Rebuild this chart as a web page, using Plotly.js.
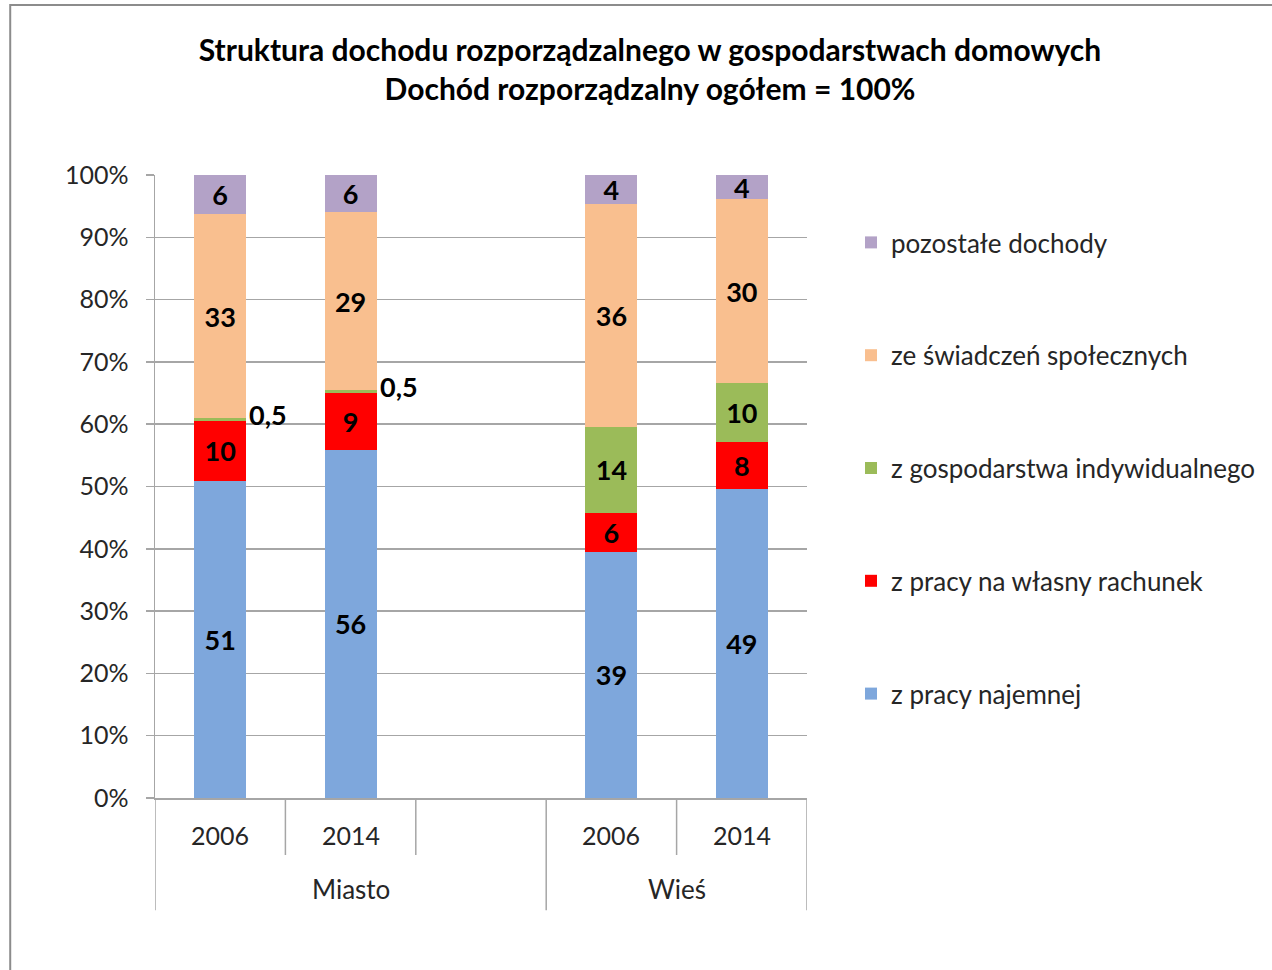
<!DOCTYPE html>
<html>
<head>
<meta charset="utf-8">
<script src="https://cdn.plot.ly/plotly-3.0.1.min.js"></script>
<style>
  html, body { margin: 0; padding: 0; background: #ffffff; }
  #chart { width: 1272px; height: 970px; }
</style>
</head>
<body>
<div id="chart"></div>
<script>
// ---- data ----
const xSlots = [0, 1, 3, 4];                 // slot positions (slot 2 is the empty gap)
const years = ['2006', '2014', '2006', '2014'];
const groups = ['Miasto', 'Wieś'];
const groupSpans = [[-0.5, 2.5], [2.5, 4.5]];

const seriesNames = ['z pracy najemnej', 'z pracy na własny rachunek', 'z gospodarstwa indywidualnego', 'ze świadczeń społecznych', 'pozostałe dochody'];
const seriesColors = ['#7ea7dc', '#ff0000', '#9bbb59', '#f9bf8f', '#b3a2c7'];

const najemnej     = [50.9, 55.9, 39.5, 49.6];
const wlasny       = [9.6, 9.1, 6.2, 7.5];
const gospodarstwo = [0.5, 0.5, 13.9, 9.5];
const swiadczenia  = [32.7, 28.5, 35.7, 29.5];
const pozostale    = [6.3, 6.0, 4.7, 3.9];

const labNajemnej     = ['51', '56', '39', '49'];
const labWlasny       = ['10', '9', '6', '8'];
const labGospodarstwo = ['0,5', '0,5', '14', '10'];
const labSwiadczenia  = ['33', '29', '36', '30'];
const labPozostale    = ['6', '6', '4', '4'];

const yTicks = [0, 10, 20, 30, 40, 50, 60, 70, 80, 90, 100];

// ---- build ----
const FONT = 'Lato, "Open Sans", sans-serif';
const values = [najemnej, wlasny, gospodarstwo, swiadczenia, pozostale];
const labels = [labNajemnej, labWlasny, labGospodarstwo, labSwiadczenia, labPozostale];
const SMALL = 2; // segments thinner than this get their label outside
const LABEL_FONT = { family: FONT, size: 27, color: '#000000', weight: 'bold' };

const traces = values.map((v, k) => ({
  type: 'bar',
  name: seriesNames[k],
  legendgroup: 'g' + k,
  legendrank: values.length - k,
  x: xSlots,
  y: v,
  width: 0.4,
  marker: { color: seriesColors[k], line: { width: 0 } },
  text: labels[k].map((t, i) => v[i] < SMALL ? '' : t),
  textposition: 'inside',
  insidetextanchor: 'middle',
  textangle: 0,
  constraintext: 'none',
  textfont: LABEL_FONT,
  hoverinfo: 'name+y'
}));

const annotations = [];
const shapes = [];
const gridGray = '#a6a6a6';
const textGray = '#262626';

// outside labels for tiny segments
values.forEach((v, k) => {
  v.forEach((val, i) => {
    if (val < SMALL) {
      let top = 0;
      for (let j = 0; j <= k; j++) top += values[j][i];
      annotations.push({
        x: xSlots[i] + 0.2, y: top, xref: 'x', yref: 'y',
        text: labels[k][i], showarrow: false,
        xanchor: 'left', yanchor: 'middle', xshift: 1, yshift: 3,
        font: LABEL_FONT
      });
    }
  });
});

// year labels
xSlots.forEach((x, i) => {
  annotations.push({
    x: x, y: -0.059, xref: 'x', yref: 'paper', text: years[i], showarrow: false,
    xanchor: 'center', yanchor: 'middle',
    font: { family: FONT, size: 25, color: textGray }
  });
});
// group labels
groups.forEach((g, i) => {
  annotations.push({
    x: (groupSpans[i][0] + groupSpans[i][1]) / 2, y: -0.146, xref: 'x', yref: 'paper',
    text: g, showarrow: false, xanchor: 'center', yanchor: 'middle',
    font: { family: FONT, size: 26, color: textGray }
  });
});

// divider lines below the axis
const rowBottom1 = -0.0915, rowBottom2 = -0.18;
const groupEdges = [];
groupSpans.forEach(s => { if (!groupEdges.includes(s[0])) groupEdges.push(s[0]); if (!groupEdges.includes(s[1])) groupEdges.push(s[1]); });
for (let b = -0.5; b <= 4.5; b += 1) {
  const full = groupEdges.includes(b);
  shapes.push({
    type: 'line', xref: 'x', yref: 'paper', x0: b, x1: b, y0: 0, y1: full ? rowBottom2 : rowBottom1,
    line: { color: gridGray, width: 1.5 }
  });
}

// outer chart frame
shapes.push({
  type: 'rect', xref: 'paper', yref: 'paper',
  x0: (10 - 155) / 653, x1: 2.2, y0: -1, y1: (798 - 5) / 623,
  line: { color: '#8c8c8c', width: 2 }, fillcolor: 'rgba(0,0,0,0)'
});

const layout = {
  width: 1272, height: 970,
  margin: { l: 155, r: 464, t: 175, b: 172 },
  paper_bgcolor: '#ffffff', plot_bgcolor: '#ffffff',
  barmode: 'stack',
  showlegend: true,
  title: {
    text: 'Struktura dochodu rozporządzalnego w gospodarstwach domowych<br>Dochód rozporządzalny ogółem = 100%',
    font: { family: FONT, size: 30, color: '#000000', weight: 'bold' },
    x: 650 / 1272, xref: 'container', xanchor: 'center',
    y: 1 - 61 / 970, yref: 'container', yanchor: 'middle'
  },
  xaxis: {
    type: 'linear', range: [-0.5, 4.5], showticklabels: false, showgrid: false,
    zeroline: false, showline: true, linecolor: gridGray, linewidth: 1.5, ticks: '', fixedrange: true
  },
  yaxis: {
    range: [0, 100], tickvals: yTicks, ticktext: yTicks.map(t => t + '%'),
    showgrid: true, gridcolor: gridGray, gridwidth: 1.5,
    zeroline: false, showline: true, linecolor: gridGray, linewidth: 1.5,
    ticks: 'outside', ticklen: 8, tickcolor: gridGray, tickwidth: 1.5,
    ticklabelstandoff: 12,
    tickfont: { family: FONT, size: 25, color: textGray }, fixedrange: true
  },
  legend: {
    x: (851 - 155) / 653, xanchor: 'left', xref: 'paper',
    y: (798 - 219) / 623, yanchor: 'top',
    traceorder: 'grouped', tracegroupgap: 76,
    font: { family: FONT, size: 26, color: textGray },
    bgcolor: 'rgba(0,0,0,0)', borderwidth: 0
  },
  annotations: annotations,
  shapes: shapes
};

Plotly.newPlot('chart', traces, layout, { displayModeBar: false, staticPlot: true });
</script>
</body>
</html>
